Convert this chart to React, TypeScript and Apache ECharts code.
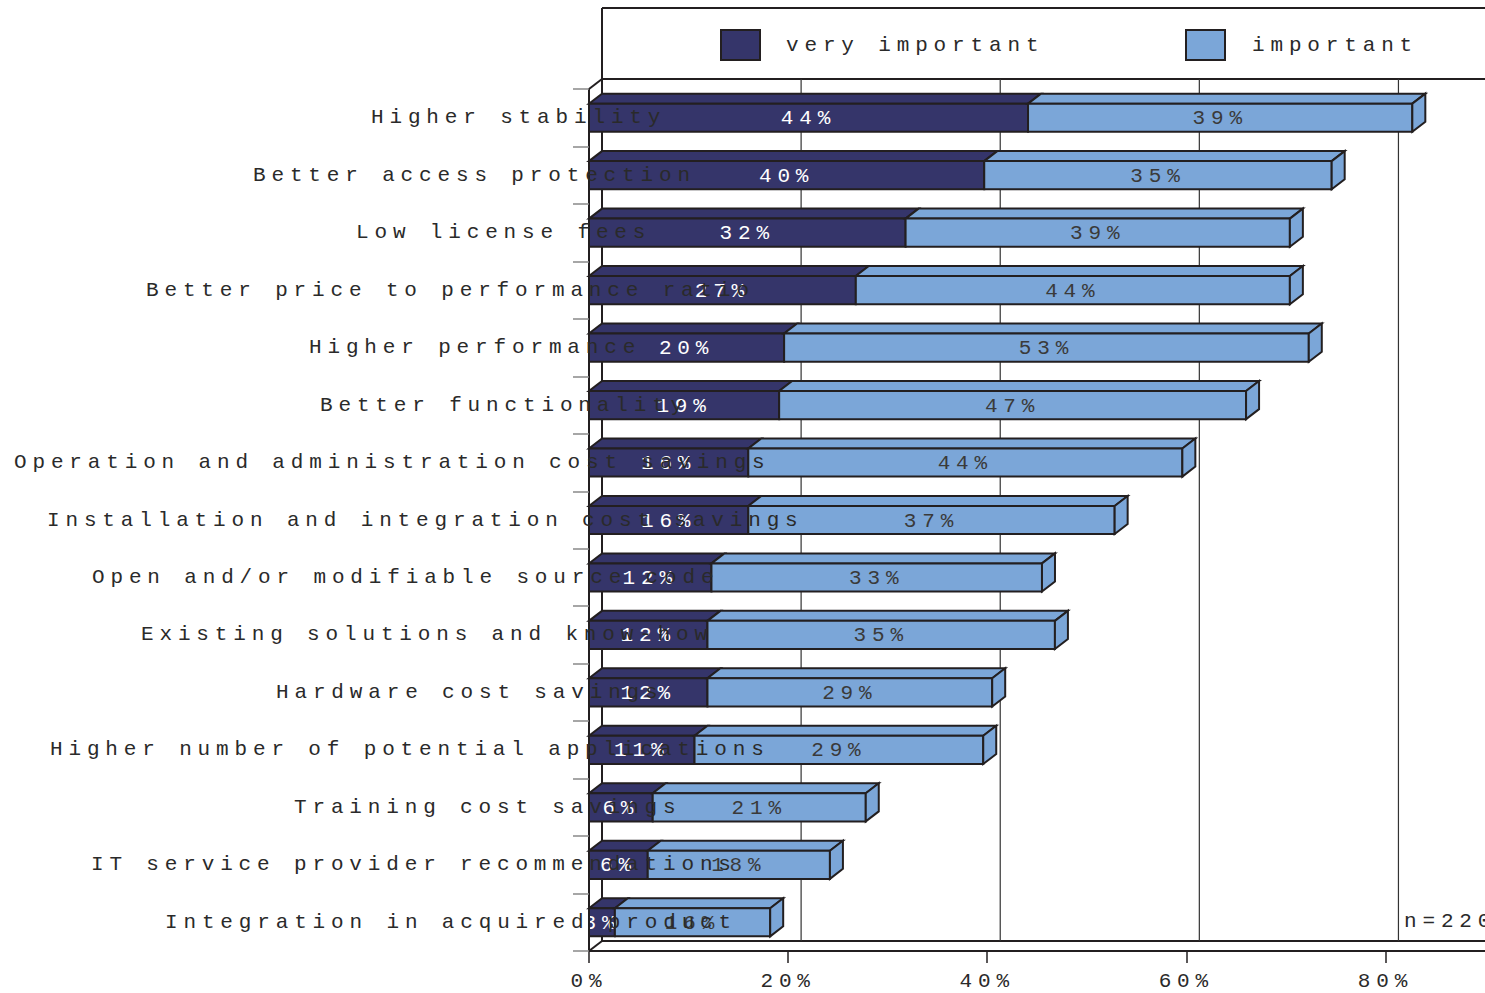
import React, { useEffect, useRef } from "react";
import * as echarts from "echarts";

const categories = [
  "Higher stability",
  "Better access protection",
  "Low license fees",
  "Better price to performance ratio",
  "Higher performance",
  "Better functionality",
  "Operation and administration cost savings",
  "Installation and integration cost savings",
  "Open and/or modifiable source code",
  "Existing solutions and know-how",
  "Hardware cost savings",
  "Higher number of potential applications",
  "Training cost savings",
  "IT service provider recommendations",
  "Integration in acquired product",
];

const veryImportant = [44.1, 39.7, 31.8, 26.8, 19.6, 19.1, 16.0, 16.0, 12.3, 11.9, 11.9, 10.6, 6.4, 5.9, 2.6];
const important = [38.6, 34.9, 38.6, 43.6, 52.7, 46.9, 43.6, 36.8, 33.2, 34.9, 28.6, 29.0, 21.4, 18.3, 15.6];
const xTicks = [0, 20, 40, 60, 80];
const seriesNames = ["very important", "important"];
const sampleNote = "n=220";

// layout: left edge of each category label (px)
const labelStartX = [371, 253, 356, 146, 309, 320, 14, 47, 92, 141, 276, 50, 294, 91, 165];

const DARK = "#35356a";
const LIGHT = "#7ba6d8";
const EDGE = "#231f20";
const TEXT = "#2a2a2a";
const FONT = "Liberation Mono";
const FS = 21;
const DX = 13;
const DY = 10;
const LEGEND_TOP = 8;

function barRenderer(isLight: boolean) {
  return (params: any, api: any) => {
    const s = api.value(0);
    const e = api.value(1);
    const ci = api.value(2);
    const p0 = api.coord([s, ci]);
    const p1 = api.coord([e, ci]);
    const bh = api.size([0, 1])[1] * 0.49;
    const top = p0[1] - bh / 2;
    const bot = p0[1] + bh / 2;
    const color = isLight ? LIGHT : DARK;
    const stroke = { stroke: EDGE, lineWidth: 2, lineJoin: "miter" };
    const children: any[] = [
      {
        type: "polygon",
        shape: { points: [[p0[0], top], [p1[0], top], [p1[0] + DX, top - DY], [p0[0] + DX, top - DY]] },
        style: { fill: color, ...stroke },
      },
      {
        type: "rect",
        shape: { x: p0[0], y: top, width: p1[0] - p0[0], height: bh },
        style: { fill: color, ...stroke },
      },
    ];
    if (isLight) {
      children.push({
        type: "polygon",
        shape: { points: [[p1[0], top], [p1[0] + DX, top - DY], [p1[0] + DX, bot - DY], [p1[0], bot]] },
        style: { fill: color, ...stroke },
      });
    }
    children.push({
      type: "text",
      style: {
        text: Math.round(e - s) + "%",
        x: (p0[0] + p1[0]) / 2,
        y: p0[1] + 1,
        align: "center",
        verticalAlign: "middle",
        fill: isLight ? "#3a3a3a" : "#ffffff",
        fontSize: FS,
        fontFamily: FONT,
      },
    });
    return { type: "group", children };
  };
}

function frameRenderer(params: any, api: any) {
  const cs = params.coordSys;
  const x0 = cs.x;
  const y0 = cs.y;
  const x1 = cs.x + cs.width;
  const y1 = cs.y + cs.height;
  const bx = x0 + DX;
  const ty = y0 - DY;
  const by = y1 - DY;
  const line = (a: number, b: number, c: number, d: number, w = 2, col = EDGE) => ({
    type: "line",
    shape: { x1: a, y1: b, x2: c, y2: d },
    style: { stroke: col, lineWidth: w },
  });
  const children: any[] = [
    line(bx, LEGEND_TOP, x1, LEGEND_TOP),
    line(bx, LEGEND_TOP, bx, by),
    line(bx, ty, x1, ty),
    line(x0, y0, bx, ty),
    line(bx, by, x1, by),
    line(x0, y1, bx, by),
  ];
  xTicks
    .filter((v) => v > 0)
    .forEach((v) => {
      const gx = api.coord([v, 0])[0] + DX;
      children.push(line(gx, ty, gx, by, 1.2, "#333"));
    });
  return { type: "group", children };
}

export default function App() {
  const ref = useRef<HTMLDivElement>(null);
  useEffect(() => {
    if (!ref.current) return;
    const chart = echarts.init(ref.current, null, { renderer: "svg" });
    const rich: any = {};
    labelStartX.forEach((x, i) => {
      rich["s" + i] = { padding: [0, 0, 0, x], color: TEXT, fontSize: FS, fontFamily: FONT };
    });
    chart.setOption({
      animation: false,
      textStyle: { fontFamily: FONT, fontSize: FS },
      grid: { left: 589, top: 89, right: 0, bottom: 42, containLabel: false },
      legend: [
        {
          data: [{ name: seriesNames[0], icon: "rect", itemStyle: { color: DARK, borderColor: EDGE, borderWidth: 2 } }],
          left: 720,
          top: 29,
          padding: 0,
          itemWidth: 39,
          itemHeight: 30,
          selectedMode: false,
          textStyle: { fontSize: FS, fontFamily: FONT, color: TEXT, padding: [0, 0, 0, 21] },
        },
        {
          data: [{ name: seriesNames[1], icon: "rect", itemStyle: { color: LIGHT, borderColor: EDGE, borderWidth: 2 } }],
          left: 1185,
          top: 29,
          padding: 0,
          itemWidth: 39,
          itemHeight: 30,
          selectedMode: false,
          textStyle: { fontSize: FS, fontFamily: FONT, color: TEXT, padding: [0, 0, 0, 22] },
        },
      ],
      xAxis: {
        type: "value",
        min: 0,
        max: 90,
        axisLine: { show: true, lineStyle: { color: EDGE, width: 2 } },
        axisTick: { show: true, length: 12, customValues: xTicks, lineStyle: { color: EDGE, width: 1.5 } },
        axisLabel: {
          customValues: xTicks,
          formatter: (v: number) => v + "%",
          margin: 20,
          color: TEXT,
          fontSize: FS,
          fontFamily: FONT,
        },
        splitLine: { show: false },
      },
      yAxis: {
        type: "category",
        inverse: true,
        data: categories,
        z: 10,
        axisLine: { show: true, lineStyle: { color: EDGE, width: 2 } },
        axisTick: { show: true, length: 16, lineStyle: { color: "#888", width: 1.5 } },
        axisLabel: {
          interval: 0,
          align: "left",
          margin: 589,
          formatter: (v: string, i: number) => "{s" + i + "|" + v + "}",
          rich,
          color: TEXT,
          fontSize: FS,
          fontFamily: FONT,
        },
        splitLine: { show: false },
      },
      graphic: [
        {
          type: "text",
          left: 1404,
          top: 911,
          z: 20,
          style: { text: sampleNote, fill: TEXT, fontSize: FS, fontFamily: FONT },
        },
      ],
      series: [
        {
          type: "custom",
          name: "frame",
          z: 1,
          silent: true,
          renderItem: frameRenderer,
          data: [[0, 0]],
          encode: { x: 0, y: 1 },
        },
        {
          type: "custom",
          name: seriesNames[0],
          z: 2,
          itemStyle: { color: DARK },
          renderItem: barRenderer(false),
          data: veryImportant.map((v, i) => [0, v, i]),
          encode: { x: [0, 1], y: 2 },
        },
        {
          type: "custom",
          name: seriesNames[1],
          z: 3,
          itemStyle: { color: LIGHT },
          renderItem: barRenderer(true),
          data: important.map((v, i) => [veryImportant[i], veryImportant[i] + v, i]),
          encode: { x: [0, 1], y: 2 },
        },
      ],
    });
    return () => chart.dispose();
  }, []);
  return (
    <>
      <style>{".chart3d text { letter-spacing: 5.85px; }"}</style>
      <div
        ref={ref}
        className="chart3d"
        style={{ position: "absolute", left: 0, top: 0, width: 1485, height: 993, background: "#fff" }}
      />
    </>
  );
}
